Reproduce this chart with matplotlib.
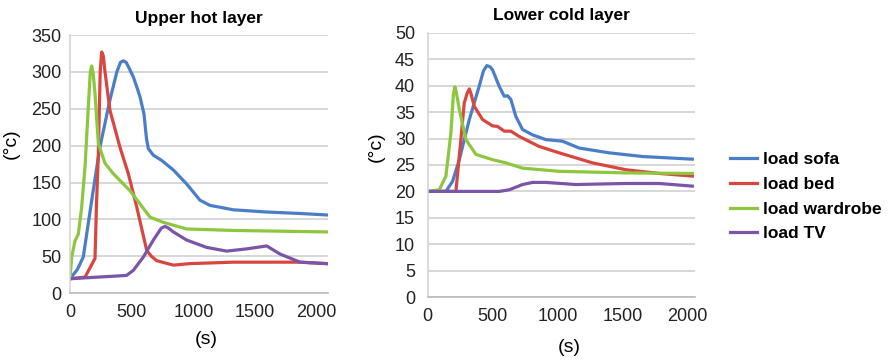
import matplotlib
matplotlib.use("Agg")
import matplotlib.pyplot as plt

plt.rcParams['font.family'] = ['Liberation Sans', 'DejaVu Sans']

# Upper hot layer (time in s, temperature in °C)
upper_sofa_t = [0, 60, 108, 180, 243, 324, 380, 410, 432, 455, 480, 514, 545, 568, 600, 620, 635, 676, 743, 838, 946, 1054, 1135, 1324, 1595, 1865, 2081]
upper_sofa_v = [19.5, 32, 49, 130, 198, 262, 300, 313, 315, 313, 305, 293, 278, 266, 243, 210, 196, 187, 180, 167, 148, 126, 119, 113, 110, 108, 106]

upper_bed_t = [0, 122, 203, 215, 230, 245, 257, 270, 284, 324, 405, 473, 541, 622, 660, 703, 770, 838, 973, 1324, 1865, 2081]
upper_bed_v = [19.5, 21.7, 47, 120, 189, 300, 327, 322, 300, 248, 198, 162, 117, 58, 50, 44, 41, 38, 40, 42, 42, 40]

upper_wardrobe_t = [0, 14, 41, 68, 95, 122, 149, 165, 176, 188, 203, 230, 284, 351, 486, 568, 649, 757, 946, 1324, 2081]
upper_wardrobe_v = [19.5, 49, 71, 80, 117, 171, 253, 300, 308, 298, 271, 203, 176, 162, 139, 121, 103, 96, 87, 85, 83]

upper_tv_t = [0, 459, 514, 595, 676, 740, 770, 800, 838, 946, 1108, 1270, 1432, 1595, 1703, 1865, 2081]
upper_tv_v = [19.5, 24, 31, 49, 72, 88, 90.5, 88, 83, 72, 62, 57, 60, 64, 53, 42, 40]

# Lower cold layer
lower_sofa_t = [0, 141, 192, 244, 321, 397, 430, 456, 480, 500, 551, 590, 615, 641, 679, 731, 808, 910, 1038, 1167, 1397, 1654, 2038]
lower_sofa_v = [20, 20, 21.9, 26, 33.6, 39.9, 42.8, 43.8, 43.6, 43, 39.9, 38, 38.1, 37.4, 34.2, 31.7, 30.7, 29.8, 29.5, 28.2, 27.3, 26.6, 26.1]

lower_bed_t = [0, 218, 256, 282, 305, 321, 335, 359, 423, 500, 538, 590, 641, 705, 859, 1013, 1269, 1526, 1782, 2038]
lower_bed_v = [20, 20, 29.8, 36.7, 38.6, 39.4, 38.4, 36.1, 33.6, 32.4, 32.3, 31.4, 31.4, 30.4, 28.5, 27.3, 25.4, 24.1, 23.4, 22.9]

lower_wardrobe_t = [0, 90, 141, 179, 198, 210, 222, 244, 295, 372, 500, 603, 731, 1013, 1526, 2038]
lower_wardrobe_v = [20, 20.3, 22.9, 31, 38.2, 39.8, 38.6, 35.5, 29.8, 27, 26, 25.4, 24.4, 23.8, 23.5, 23.4]

lower_tv_t = [0, 551, 628, 731, 808, 910, 1141, 1526, 1782, 2038]
lower_tv_v = [20, 20, 20.3, 21.3, 21.7, 21.7, 21.3, 21.5, 21.5, 21]

series_names = ['load sofa', 'load bed', 'load wardrobe', 'load TV']
colors = ['#4A7EC8', '#D9463F', '#8DC63F', '#7B55A8']

x_ticks = [0, 500, 1000, 1500, 2000]

fig = plt.figure(figsize=(8.89, 3.61), dpi=100)
ax1 = fig.add_axes([0.0787, 0.188, 0.290, 0.715])
ax2 = fig.add_axes([0.481, 0.177, 0.301, 0.732])

upper = [(upper_sofa_t, upper_sofa_v), (upper_bed_t, upper_bed_v),
         (upper_wardrobe_t, upper_wardrobe_v), (upper_tv_t, upper_tv_v)]
lower = [(lower_sofa_t, lower_sofa_v), (lower_bed_t, lower_bed_v),
         (lower_wardrobe_t, lower_wardrobe_v), (lower_tv_t, lower_tv_v)]


def style(ax, ymax, ystep, xmax, title, ypad, xlab_xy, ylab_xy):
    ax.set_xlim(0, xmax)
    ax.set_ylim(0, ymax)
    ax.set_yticks(range(0, ymax + 1, ystep))
    ax.set_xticks(x_ticks)
    ax.grid(axis='y', color='#D4D4D4', linewidth=1.3)
    ax.set_axisbelow(True)
    for s in ['top', 'right']:
        ax.spines[s].set_visible(False)
    ax.spines['left'].set_color('#D4D4D4')
    ax.spines['bottom'].set_color('#BBBBBB')
    ax.spines['left'].set_linewidth(1.2)
    ax.spines['bottom'].set_linewidth(1.2)
    ax.tick_params(length=0, labelsize=13, colors='#222222')
    ax.tick_params(axis='x', pad=8)
    ax.tick_params(axis='y', pad=ypad)
    ax.set_title(title, fontsize=12.5, fontweight='bold', pad=9)
    ax.set_xlabel('(s)', fontsize=14)
    ax.set_ylabel('(°c)', fontsize=14)
    ax.xaxis.set_label_coords(*xlab_xy)
    ax.yaxis.set_label_coords(*ylab_xy)


for (t, v), c, n in zip(upper, colors, series_names):
    ax1.plot(t, v, color=c, linewidth=2.3, label=n, solid_joinstyle='round')
for (t, v), c, n in zip(lower, colors, series_names):
    ax2.plot(t, v, color=c, linewidth=2.3, label=n, solid_joinstyle='round')

style(ax1, 350, 50, 2090, 'Upper hot layer', 6, (0.53, -0.147), (-0.194, 0.58))
style(ax2, 50, 5, 2060, 'Lower cold layer', 9, (0.53, -0.159), (-0.161, 0.57))

leg = ax2.legend(loc='center left', bbox_to_anchor=(1.07, 0.38), frameon=False,
                 handlelength=1.6, handletextpad=0.3, labelspacing=0.55,
                 prop={'weight': 'bold', 'size': 12.5})

fig.savefig('out.png', dpi=100)
